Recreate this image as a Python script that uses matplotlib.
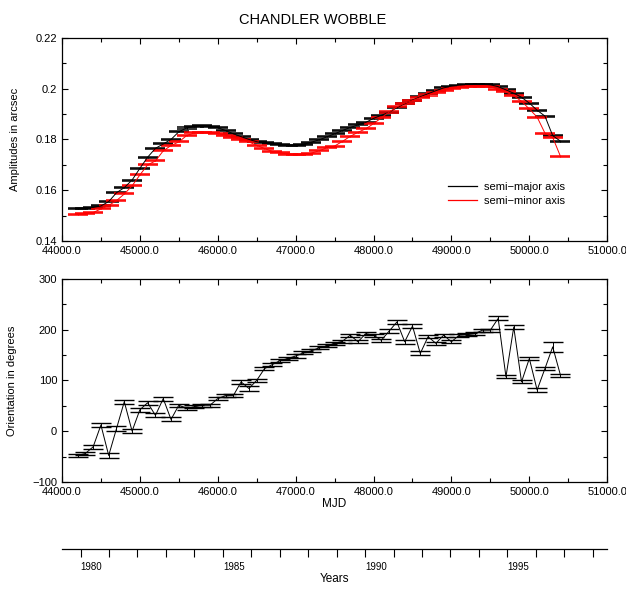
import matplotlib
matplotlib.use("Agg")
import matplotlib.pyplot as plt
import numpy as np
from matplotlib.lines import Line2D
from matplotlib.ticker import FuncFormatter, MultipleLocator

plt.rcParams["font.family"] = ["Liberation Sans", "DejaVu Sans"]

# epochs (MJD) of the wobble estimates
mjd = np.arange(44200, 50401, 100)

semi_major = [
    0.1528, 0.1528, 0.1532, 0.1538, 0.1555, 0.1590, 0.1610, 0.1640,
    0.1686, 0.1730, 0.1765, 0.1782, 0.1800, 0.1830, 0.1845, 0.1852, 0.1853, 0.1851,
    0.1846, 0.1835, 0.1822, 0.1811, 0.1800, 0.1791, 0.1786, 0.1782, 0.1779, 0.1776,
    0.1777, 0.1781, 0.1789, 0.1798, 0.1810, 0.1822, 0.1835, 0.1847, 0.1857, 0.1867,
    0.1883, 0.1895, 0.1907, 0.1925, 0.1941, 0.1955, 0.1968, 0.1980, 0.1992, 0.2003,
    0.2010, 0.2014, 0.2017, 0.2018, 0.2018, 0.2015, 0.2008, 0.1995, 0.1982, 0.1966,
    0.1943, 0.1915, 0.1892, 0.1815, 0.1793,
]
semi_minor = [
    0.1506, 0.1508, 0.1512, 0.1526, 0.1540, 0.1559, 0.1585, 0.1617,
    0.1660, 0.1700, 0.1715, 0.1755, 0.1776, 0.1790, 0.1815, 0.1826, 0.1829, 0.1828,
    0.1824, 0.1816, 0.1808, 0.1799, 0.1790, 0.1777, 0.1764, 0.1753, 0.1747, 0.1742,
    0.1739, 0.1740, 0.1746, 0.1755, 0.1767, 0.1774, 0.1792, 0.1812, 0.1828, 0.1842,
    0.1862, 0.1885, 0.1908, 0.1928, 0.1943, 0.1953, 0.1965, 0.1975, 0.1985, 0.1993,
    0.2000, 0.2005, 0.2008, 0.2010, 0.2010, 0.2007, 0.1998, 0.1987, 0.1972, 0.1950,
    0.1920, 0.1888, 0.1825, 0.1808, 0.1733,
]
amp_err = 0.0002

orientation = [
    -48, -44, -31, 12, -48, 5, 58, 0,
    42, 56, 31, 64, 23, 51, 45, 48, 51, 51,
    64, 70, 70, 97, 84, 100, 123, 131, 139, 143,
    148, 154, 158, 164, 168, 173, 177, 189, 176, 192,
    189, 179, 197, 215, 176, 207, 153, 186, 173, 189,
    176, 189, 190, 192, 199, 199, 222, 107, 205, 97,
    143, 81, 123, 166, 110,
]
orientation_err = [
    3, 3, 4, 4, 4, 5, 4, 4,
    4, 4, 4, 4, 4, 3, 3, 3, 3, 3,
    3, 3, 3, 4, 4, 3, 3, 3, 3, 3,
    3, 3, 3, 3, 3, 3, 3, 3, 3, 3,
    3, 3, 4, 4, 4, 4, 4, 3, 3, 3,
    3, 3, 3, 3, 3, 3, 4, 3, 4, 3,
    3, 3, 3, 10, 3,
]

# year ticks on the bottom axis, MJD of 1980-01-01 is 44239
mjd_1980 = 44239
year_ticks = list(range(1980, 1999))
year_labels = [1980, 1985, 1990, 1995]

FS = 8


def style_axis(ax):
    ax.set_xlim(44000, 51000)
    ax.xaxis.set_major_locator(MultipleLocator(1000))
    ax.xaxis.set_minor_locator(MultipleLocator(500))
    ax.xaxis.set_major_formatter(FuncFormatter(lambda v, p: f"{v:.1f}"))
    ax.tick_params(which="both", direction="in", top=True, right=True,
                   labelsize=FS, width=0.8)
    ax.tick_params(which="major", length=4)
    ax.tick_params(which="minor", length=3)
    for sp in ax.spines.values():
        sp.set_linewidth(0.9)


fig = plt.figure(figsize=(6.26, 5.92), dpi=100)
ax1 = fig.add_axes([0.099, 0.593, 0.871, 0.343])
ax2 = fig.add_axes([0.099, 0.186, 0.871, 0.343])

fig.text(0.5, 0.978, "CHANDLER WOBBLE", ha="center", va="top", fontsize=10.5)

amp_kw = dict(lw=0.7, elinewidth=0.7, capsize=7.5, capthick=1.1)
ax1.errorbar(mjd, semi_major, yerr=amp_err, color="black", **amp_kw)
ax1.errorbar(mjd, semi_minor, yerr=amp_err, color="red", **amp_kw)
style_axis(ax1)
ax1.set_ylim(0.14, 0.22)
ax1.yaxis.set_major_locator(MultipleLocator(0.02))
ax1.yaxis.set_minor_locator(MultipleLocator(0.01))
ax1.yaxis.set_major_formatter(FuncFormatter(lambda v, p: f"{v:g}"))
ax1.set_ylabel("Amplitudes in arcsec", fontsize=FS, labelpad=11)
handles = [Line2D([], [], color="black", lw=0.9),
           Line2D([], [], color="red", lw=0.9)]
ax1.legend(handles, ["semi\u2212major axis", "semi\u2212minor axis"],
           loc="upper left", bbox_to_anchor=(0.69, 0.34), frameon=False,
           fontsize=FS, handlelength=2.6, handletextpad=0.6, labelspacing=0.4)

ori_kw = dict(lw=0.7, elinewidth=0.7, capsize=7.5, capthick=1.0)
ax2.errorbar(mjd, orientation, yerr=orientation_err, color="black", **ori_kw)
style_axis(ax2)
ax2.set_ylim(-100, 300)
ax2.yaxis.set_major_locator(MultipleLocator(100))
ax2.yaxis.set_minor_locator(MultipleLocator(50))
ax2.set_ylabel("Orientation in degrees", fontsize=FS, labelpad=11)
ax2.set_xlabel("MJD", fontsize=FS + 0.5, labelpad=1)

# years axis, same scale as MJD
ax3 = fig.add_axes([0.099, 0.0726, 0.871, 0.0001])
ax3.patch.set_visible(False)
for side in ("top", "left", "right"):
    ax3.spines[side].set_visible(False)
ax3.spines["bottom"].set_linewidth(0.9)
ax3.set_yticks([])
ax3.set_xlim(44000, 51000)
ax3.set_xticks([mjd_1980 + (y - 1980) * 365.25 for y in year_ticks])
ax3.set_xticklabels([str(y) if y in year_labels else "" for y in year_ticks])
ax3.tick_params(axis="x", direction="out", length=6, width=0.8, labelsize=FS - 1, pad=3)
for lab in ax3.get_xticklabels():
    lab.set_ha("left")
ax3.set_xlabel("Years", fontsize=FS + 0.5, labelpad=1)

fig.savefig("out.png", dpi=100)
